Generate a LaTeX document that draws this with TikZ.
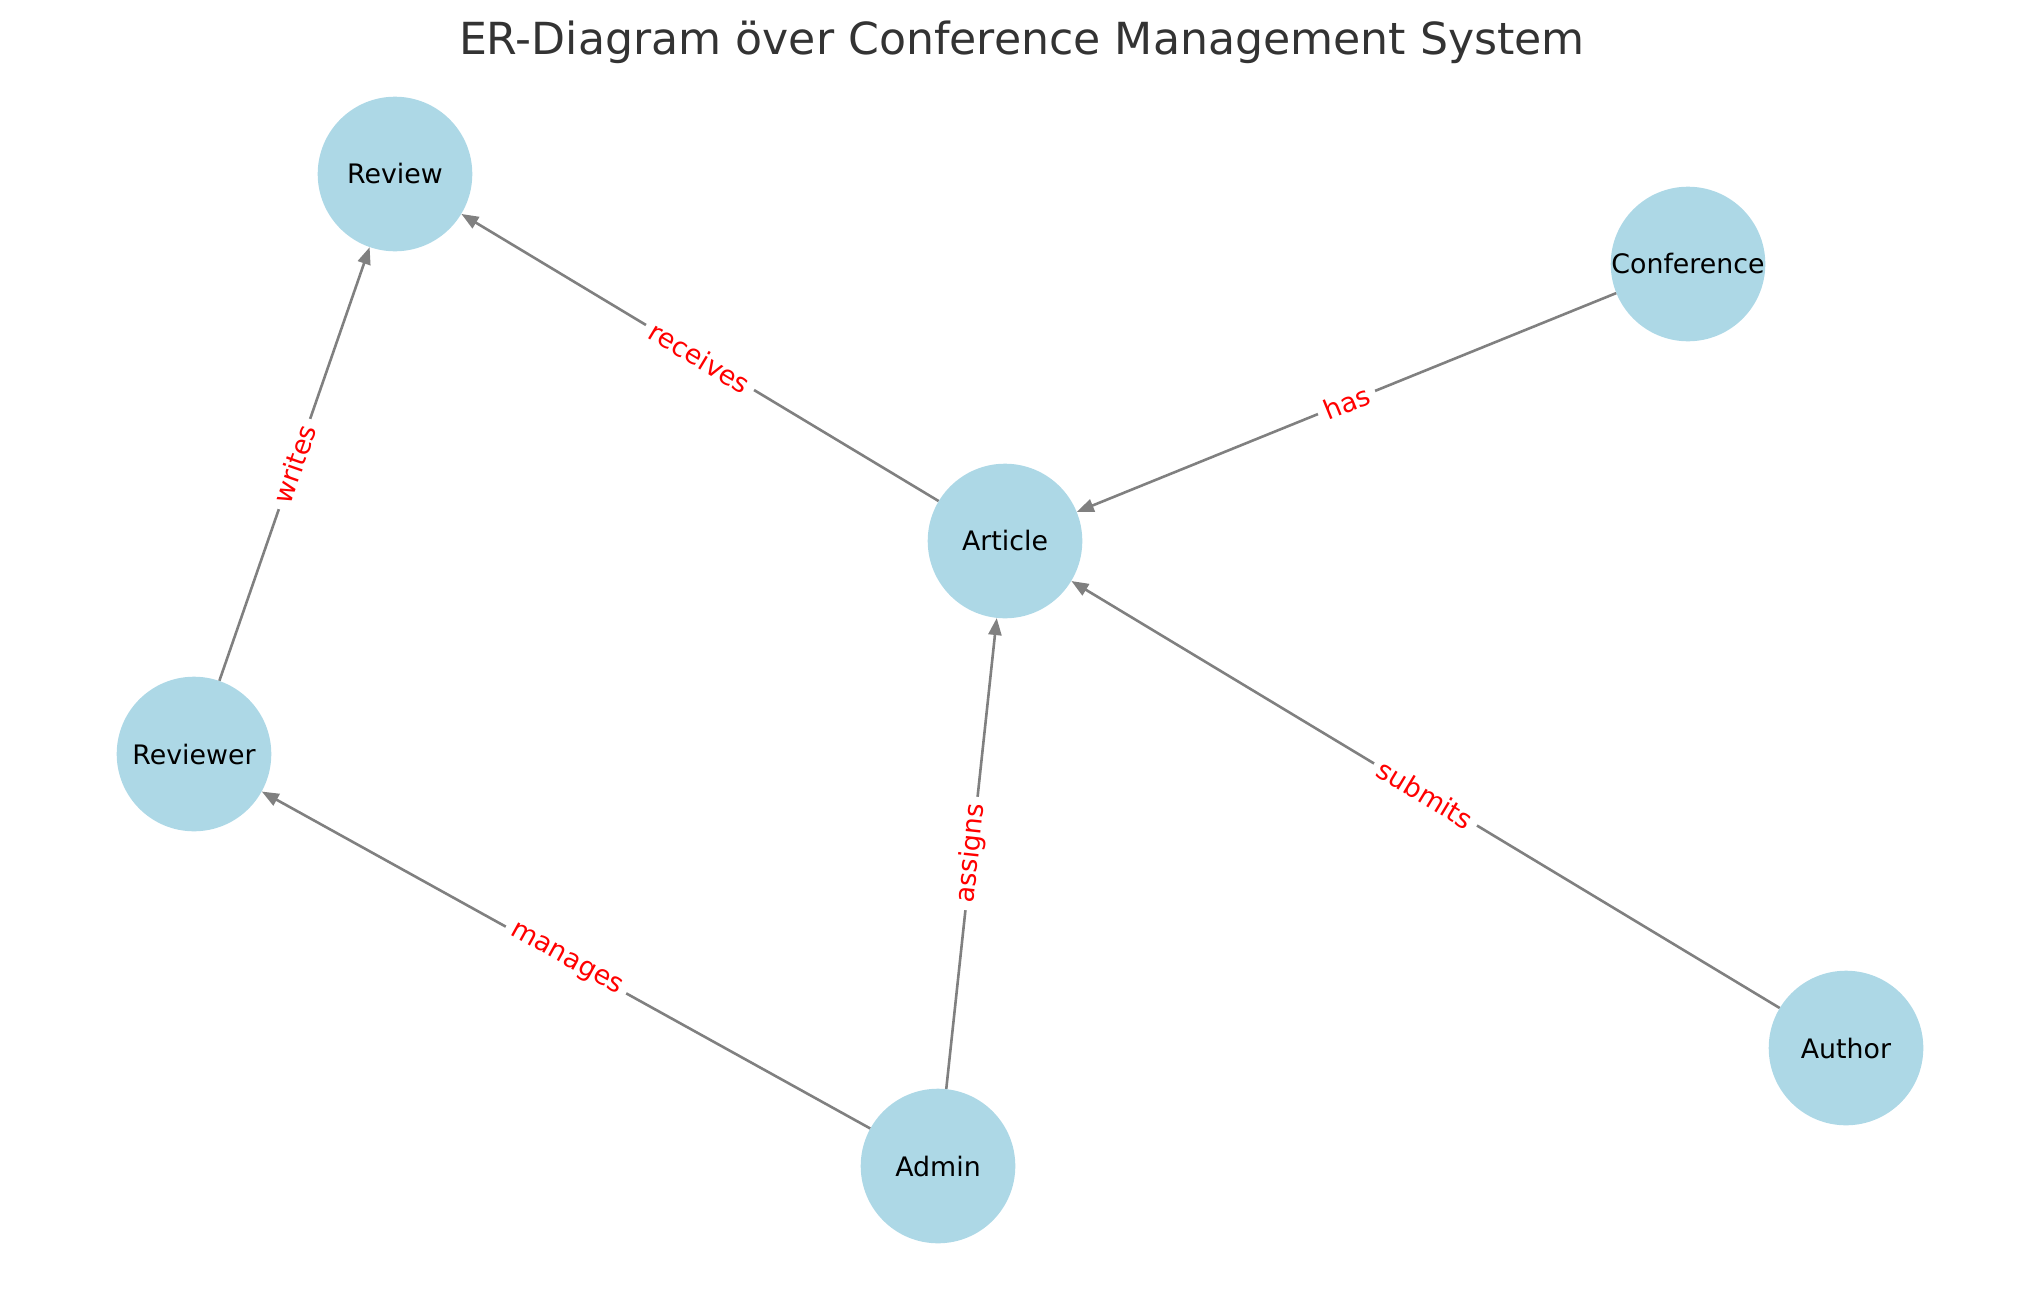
\documentclass[tikz,border=0pt]{standalone}
\usepackage{fontspec}
\setmainfont{DejaVu Sans}
\usetikzlibrary{arrows.meta}
\definecolor{nodeblue}{HTML}{ADD8E6}
\definecolor{edgegray}{HTML}{808080}
\definecolor{titlegray}{HTML}{333333}
\begin{document}
\begin{tikzpicture}[x=1pt,y=-1pt,
  entity/.style={circle,fill=nodeblue,draw=none,minimum size=154.6pt,inner sep=0pt,
    font=\fontsize{26.8}{30}\selectfont,text=black},
  rel/.style={draw=edgegray,line width=2.6pt,-{Triangle[length=17pt,width=13pt]}},
  rellabel/.style={midway,sloped,fill=white,text=red,inner sep=7pt,rounded corners=6pt,
    font=\fontsize{26.8}{30}\selectfont}]
\useasboundingbox (0,0) rectangle (2039,1290);
\node[font=\fontsize{44.2}{50}\selectfont,text=titlegray] (title) at (1022,42) {ER-Diagram över Conference Management System};
\node[entity] (review) at (395,174) {Review};
\node[entity] (conference) at (1688,264) {Conference};
\node[entity] (article) at (1005,541) {Article};
\node[entity] (reviewer) at (194,754) {Reviewer};
\node[entity] (author) at (1846,1048) {Author};
\node[entity] (admin) at (938,1166) {Admin};
\draw[rel] (article) -- node[rellabel] {receives} (review);
\draw[rel] (conference) -- node[rellabel] {has} (article);
\draw[rel] (reviewer) -- node[rellabel] {writes} (review);
\draw[rel] (admin) -- node[rellabel] {manages} (reviewer);
\draw[rel] (admin) -- node[rellabel] {assigns} (article);
\draw[rel] (author) -- node[rellabel] {submits} (article);
\end{tikzpicture}
\end{document}
